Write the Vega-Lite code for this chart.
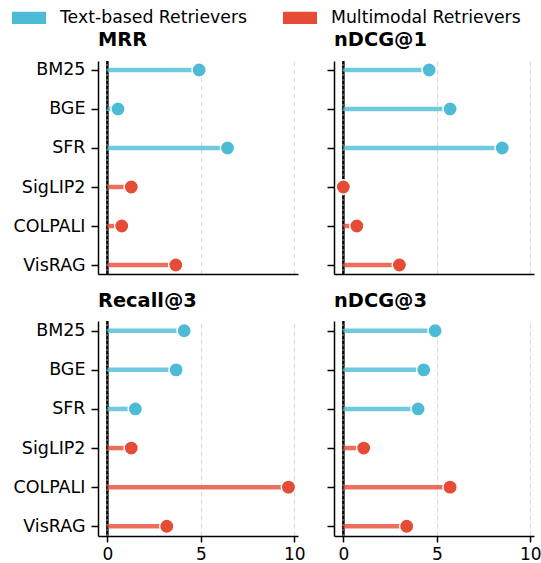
{
  "$schema": "https://vega.github.io/schema/vega-lite/v6.json",
  "padding": {"left": 12, "top": 0, "right": 5, "bottom": 0},
  "background": "white",
  "datasets": {
    "scores": [
      {"metric": "MRR", "retriever": "BM25", "type": "Text-based Retrievers", "value": 4.91},
      {"metric": "MRR", "retriever": "BGE", "type": "Text-based Retrievers", "value": 0.57},
      {"metric": "MRR", "retriever": "SFR", "type": "Text-based Retrievers", "value": 6.43},
      {"metric": "MRR", "retriever": "SigLIP2", "type": "Multimodal Retrievers", "value": 1.28},
      {"metric": "MRR", "retriever": "COLPALI", "type": "Multimodal Retrievers", "value": 0.77},
      {"metric": "MRR", "retriever": "VisRAG", "type": "Multimodal Retrievers", "value": 3.66},
      {"metric": "nDCG@1", "retriever": "BM25", "type": "Text-based Retrievers", "value": 4.59},
      {"metric": "nDCG@1", "retriever": "BGE", "type": "Text-based Retrievers", "value": 5.71},
      {"metric": "nDCG@1", "retriever": "SFR", "type": "Text-based Retrievers", "value": 8.5},
      {"metric": "nDCG@1", "retriever": "SigLIP2", "type": "Multimodal Retrievers", "value": 0.0},
      {"metric": "nDCG@1", "retriever": "COLPALI", "type": "Multimodal Retrievers", "value": 0.72},
      {"metric": "nDCG@1", "retriever": "VisRAG", "type": "Multimodal Retrievers", "value": 3.0},
      {"metric": "Recall@3", "retriever": "BM25", "type": "Text-based Retrievers", "value": 4.11},
      {"metric": "Recall@3", "retriever": "BGE", "type": "Text-based Retrievers", "value": 3.68},
      {"metric": "Recall@3", "retriever": "SFR", "type": "Text-based Retrievers", "value": 1.5},
      {"metric": "Recall@3", "retriever": "SigLIP2", "type": "Multimodal Retrievers", "value": 1.28},
      {"metric": "Recall@3", "retriever": "COLPALI", "type": "Multimodal Retrievers", "value": 9.69},
      {"metric": "Recall@3", "retriever": "VisRAG", "type": "Multimodal Retrievers", "value": 3.18},
      {"metric": "nDCG@3", "retriever": "BM25", "type": "Text-based Retrievers", "value": 4.91},
      {"metric": "nDCG@3", "retriever": "BGE", "type": "Text-based Retrievers", "value": 4.3},
      {"metric": "nDCG@3", "retriever": "SFR", "type": "Text-based Retrievers", "value": 4.0},
      {"metric": "nDCG@3", "retriever": "SigLIP2", "type": "Multimodal Retrievers", "value": 1.09},
      {"metric": "nDCG@3", "retriever": "COLPALI", "type": "Multimodal Retrievers", "value": 5.71},
      {"metric": "nDCG@3", "retriever": "VisRAG", "type": "Multimodal Retrievers", "value": 3.39}
    ]
  },
  "data": {"name": "scores"},
  "columns": 2,
  "spacing": {"row": 47, "column": 36},
  "bounds": "flush",
  "resolve": {"scale": {"x": "independent", "y": "independent", "color": "shared"}},
  "concat": [
    {
      "title": "MRR",
      "width": 200, "height": 213,
      "transform": [{"filter": "datum.metric === 'MRR'"}],
      "layer": [
        {"mark": {"type": "rule", "color": "#555555", "strokeWidth": 2.2}, "encoding": {"x": {"datum": 0, "type": "quantitative", "scale": {"domain": [-0.5, 10.2], "nice": false, "zero": false}, "axis": {"labels": false, "ticks": false, "grid": true, "values": [0, 5, 10], "title": null}}}},
        {"mark": {"type": "rule", "color": "#000000", "strokeWidth": 1, "strokeDash": [3, 2]}, "encoding": {"x": {"datum": 0, "type": "quantitative"}}},
        {"mark": {"type": "rule", "strokeWidth": 4.5, "strokeOpacity": 0.8}, "encoding": {
          "y": {"field": "retriever", "type": "nominal", "scale": {"type": "point", "domain": ["BM25", "BGE", "SFR", "SigLIP2", "COLPALI", "VisRAG"], "padding": 0.23}, "axis": {"title": null}},
          "x": {"field": "value", "type": "quantitative"},
          "x2": {"datum": 0},
          "color": {"field": "type", "type": "nominal"}}},
        {"mark": {"type": "circle", "size": 205, "opacity": 1, "stroke": "white", "strokeWidth": 1.5}, "encoding": {
          "y": {"field": "retriever", "type": "nominal"},
          "x": {"field": "value", "type": "quantitative"},
          "color": {"field": "type", "type": "nominal",
            "scale": {"domain": ["Text-based Retrievers", "Multimodal Retrievers"], "range": ["#4DBBD5", "#E64B35"]},
            "legend": {"orient": "none", "legendX": -86, "legendY": -60.5, "direction": "horizontal", "title": null,
              "symbolType": "M-1,-0.36H1V0.36H-1Z", "symbolSize": 1156, "symbolStrokeWidth": 0, "symbolOpacity": 1,
              "labelFontSize": 17.3, "labelOffset": 14, "labelLimit": 400, "columnPadding": 36, "padding": 0, "labelColor": "#000000",
              "encode": {"symbols": {"update": {"opacity": {"value": 1}, "fillOpacity": {"value": 1}, "strokeWidth": {"value": 0}}}}}}}}
      ]
    },
    {
      "title": "nDCG@1",
      "width": 200, "height": 213,
      "transform": [{"filter": "datum.metric === 'nDCG@1'"}],
      "layer": [
        {"mark": {"type": "rule", "color": "#555555", "strokeWidth": 2.2}, "encoding": {"x": {"datum": 0, "type": "quantitative", "scale": {"domain": [-0.5, 10.2], "nice": false, "zero": false}, "axis": {"labels": false, "ticks": false, "grid": true, "values": [0, 5, 10], "title": null}}}},
        {"mark": {"type": "rule", "color": "#000000", "strokeWidth": 1, "strokeDash": [3, 2]}, "encoding": {"x": {"datum": 0, "type": "quantitative"}}},
        {"mark": {"type": "rule", "strokeWidth": 4.5, "strokeOpacity": 0.8}, "encoding": {
          "y": {"field": "retriever", "type": "nominal", "scale": {"type": "point", "domain": ["BM25", "BGE", "SFR", "SigLIP2", "COLPALI", "VisRAG"], "padding": 0.23}, "axis": {"title": null, "labels": false}},
          "x": {"field": "value", "type": "quantitative"},
          "x2": {"datum": 0},
          "color": {"field": "type", "type": "nominal"}}},
        {"mark": {"type": "circle", "size": 205, "opacity": 1, "stroke": "white", "strokeWidth": 1.5}, "encoding": {
          "y": {"field": "retriever", "type": "nominal"},
          "x": {"field": "value", "type": "quantitative"},
          "color": {"field": "type", "type": "nominal"}}}
      ]
    },
    {
      "title": "Recall@3",
      "width": 200, "height": 215,
      "transform": [{"filter": "datum.metric === 'Recall@3'"}],
      "layer": [
        {"mark": {"type": "rule", "color": "#555555", "strokeWidth": 2.2}, "encoding": {"x": {"datum": 0, "type": "quantitative", "scale": {"domain": [-0.5, 10.2], "nice": false, "zero": false}, "axis": {"grid": true, "values": [0, 5, 10], "title": null}}}},
        {"mark": {"type": "rule", "color": "#000000", "strokeWidth": 1, "strokeDash": [3, 2]}, "encoding": {"x": {"datum": 0, "type": "quantitative"}}},
        {"mark": {"type": "rule", "strokeWidth": 4.5, "strokeOpacity": 0.8}, "encoding": {
          "y": {"field": "retriever", "type": "nominal", "scale": {"type": "point", "domain": ["BM25", "BGE", "SFR", "SigLIP2", "COLPALI", "VisRAG"], "padding": 0.25}, "axis": {"title": null}},
          "x": {"field": "value", "type": "quantitative"},
          "x2": {"datum": 0},
          "color": {"field": "type", "type": "nominal"}}},
        {"mark": {"type": "circle", "size": 205, "opacity": 1, "stroke": "white", "strokeWidth": 1.5}, "encoding": {
          "y": {"field": "retriever", "type": "nominal"},
          "x": {"field": "value", "type": "quantitative"},
          "color": {"field": "type", "type": "nominal"}}}
      ]
    },
    {
      "title": "nDCG@3",
      "width": 200, "height": 215,
      "transform": [{"filter": "datum.metric === 'nDCG@3'"}],
      "layer": [
        {"mark": {"type": "rule", "color": "#555555", "strokeWidth": 2.2}, "encoding": {"x": {"datum": 0, "type": "quantitative", "scale": {"domain": [-0.5, 10.2], "nice": false, "zero": false}, "axis": {"grid": true, "values": [0, 5, 10], "title": null}}}},
        {"mark": {"type": "rule", "color": "#000000", "strokeWidth": 1, "strokeDash": [3, 2]}, "encoding": {"x": {"datum": 0, "type": "quantitative"}}},
        {"mark": {"type": "rule", "strokeWidth": 4.5, "strokeOpacity": 0.8}, "encoding": {
          "y": {"field": "retriever", "type": "nominal", "scale": {"type": "point", "domain": ["BM25", "BGE", "SFR", "SigLIP2", "COLPALI", "VisRAG"], "padding": 0.25}, "axis": {"title": null, "labels": false}},
          "x": {"field": "value", "type": "quantitative"},
          "x2": {"datum": 0},
          "color": {"field": "type", "type": "nominal"}}},
        {"mark": {"type": "circle", "size": 205, "opacity": 1, "stroke": "white", "strokeWidth": 1.5}, "encoding": {
          "y": {"field": "retriever", "type": "nominal"},
          "x": {"field": "value", "type": "quantitative"},
          "color": {"field": "type", "type": "nominal"}}}
      ]
    }
  ],
  "config": {
    "font": "DejaVu Sans",
    "view": {"stroke": null},
    "axis": {
      "domainColor": "#000000", "domainWidth": 1.5,
      "tickColor": "#000000", "tickWidth": 1.5, "tickSize": 7,
      "labelFont": "DejaVu Sans", "labelFontSize": 17.5, "labelColor": "#000000", "labelPadding": 6,
      "gridColor": "#dddddd", "gridDash": [5, 3], "gridWidth": 1.2
    },
    "axisY": {"grid": false},
    "axisX": {"labelPadding": 4, "labelFontSize": 17, "tickSize": 6, "labelFlush": false, "labelOverlap": false},
    "title": {"font": "DejaVu Sans", "fontSize": 19.4, "fontWeight": "bold", "anchor": "start", "frame": "group", "offset": 9, "color": "#000000"},
    "legend": {"labelFont": "DejaVu Sans"}
  }
}
